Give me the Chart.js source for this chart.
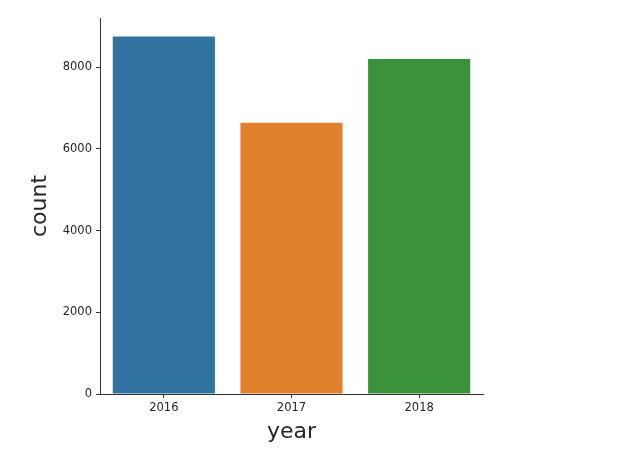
<!DOCTYPE html>
<html>
<head>
<meta charset="utf-8">
<script src="https://cdn.jsdelivr.net/npm/chart.js@4"></script>
<style>
html,body{margin:0;padding:0;background:#fff;}
#wrap{width:619px;height:455px;}
</style>
</head>
<body>
<div id="wrap"><canvas id="c" width="619" height="455"></canvas></div>
<script>
const categories = ['2016', '2017', '2018'];
const counts = [8746, 6636, 8196];
const barColors = ['#3274a1', '#e1812c', '#3a923a'];
const yTicks = [0, 2000, 4000, 6000, 8000];

const AREA = {left: 100, top: 18, right: 483, bottom: 394};
const W = 619, H = 455;
const PAD_LEFT = 27, PAD_BOTTOM = 10;
const axisColor = '#333333';
const textColor = '#262626';

new Chart(document.getElementById('c'), {
  type: 'bar',
  data: {
    labels: categories,
    datasets: [{
      data: counts,
      backgroundColor: barColors,
      borderWidth: 0,
      barPercentage: 0.8,
      categoryPercentage: 1.0
    }]
  },
  options: {
    responsive: false,
    animation: false,
    devicePixelRatio: 1,
    layout: {padding: {left: PAD_LEFT, top: AREA.top, right: W - AREA.right, bottom: PAD_BOTTOM}},
    plugins: {legend: {display: false}, tooltip: {enabled: false}},
    scales: {
      x: {
        offset: true,
        grid: {display: true, drawOnChartArea: false, drawTicks: true, tickLength: 4, color: axisColor, offset: false},
        border: {display: true, color: axisColor, width: 1},
        ticks: {color: textColor, font: {family: 'DejaVu Sans', size: 11.5}, padding: 3},
        title: {display: true, text: 'year', color: textColor, font: {family: 'DejaVu Sans', size: 22}, padding: {top: 0, bottom: 0}},
        afterFit: function(s) { s.height = H - AREA.bottom - PAD_BOTTOM; }
      },
      y: {
        min: 0,
        max: 9200,
        afterBuildTicks: function(s) { s.ticks = yTicks.map(v => ({value: v})); },
        grid: {display: true, drawOnChartArea: false, drawTicks: true, tickLength: 4, color: axisColor},
        border: {display: true, color: axisColor, width: 1},
        ticks: {color: textColor, font: {family: 'DejaVu Sans', size: 11.5}, padding: 4,
          callback: function(v) { return String(v); }},
        title: {display: true, text: 'count', color: textColor, font: {family: 'DejaVu Sans', size: 22}, padding: {top: 0, bottom: 0}},
        afterFit: function(s) { s.width = AREA.left - PAD_LEFT; }
      }
    }
  }
});
</script>
</body>
</html>
